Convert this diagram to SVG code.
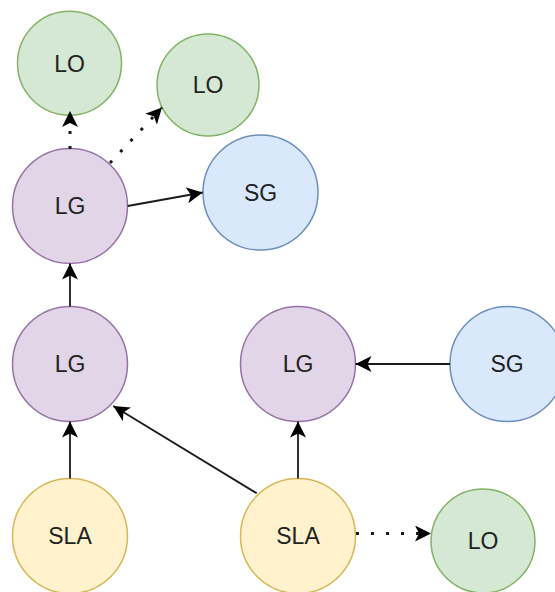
<svg xmlns="http://www.w3.org/2000/svg" width="555" height="592" viewBox="0 0 555 592">
<style>
.lo{fill:#d5e8d4;stroke:#82b366;stroke-width:1.5}
.lg{fill:#e1d5e7;stroke:#9673a6;stroke-width:1.5}
.sg{fill:#dae8fc;stroke:#6c8ebf;stroke-width:1.5}
.sla{fill:#fff2cc;stroke:#d6b656;stroke-width:1.5}
text{font-family:"Liberation Sans",Arial,sans-serif;font-size:23px;fill:#222;text-anchor:middle}
.e{fill:none;stroke:#1a1a1a;stroke-width:1.8;marker-end:url(#arr)}
.d{fill:none;stroke:#1a1a1a;stroke-width:3;stroke-dasharray:3 12;marker-end:url(#arr)}
</style>
<defs>
<marker id="arr" markerUnits="userSpaceOnUse" markerWidth="16" markerHeight="16" viewBox="0 0 16 16" refX="16" refY="8" orient="auto">
<path d="M16,8 L0,0 L4,8 L0,16 Z" fill="#000"/>
</marker>
</defs>
<rect width="555" height="592" fill="#fff"/>
<g id="n1"><circle class="lo" cx="69.5" cy="63.3" r="52"/><text x="69.5" y="71.5">LO</text></g>
<g id="n2"><circle class="lo" cx="208" cy="85" r="51"/><text x="208" y="93.2">LO</text></g>
<g id="n3"><circle class="lg" cx="70" cy="206" r="57.5"/><text x="70" y="214.2">LG</text></g>
<g id="n4"><circle class="sg" cx="260.5" cy="192.5" r="57.5"/><text x="260.5" y="200.7">SG</text></g>
<g id="n5"><circle class="lg" cx="70" cy="364" r="57.5"/><text x="70" y="372.2">LG</text></g>
<g id="n6"><circle class="lg" cx="298" cy="364" r="57.5"/><text x="298" y="372.2">LG</text></g>
<g id="n7"><circle class="sg" cx="507.5" cy="364" r="57.5"/><text x="507" y="372.2">SG</text></g>
<g id="n8"><circle class="sla" cx="70" cy="536" r="57.5"/><text x="70" y="544.2">SLA</text></g>
<g id="n9"><circle class="sla" cx="298" cy="536" r="57.5"/><text x="298" y="544.2">SLA</text></g>
<g id="n10"><circle class="lo" cx="483" cy="541" r="52"/><text x="483" y="549.2">LO</text></g>
<g id="edges">
<path class="d" d="M70,149 L70,111"/>
<path class="d" d="M110,163 L162,107.5"/>
<path class="e" d="M127.7,206 L202.7,192.5"/>
<path class="e" d="M70,306.5 L70,263.5"/>
<path class="e" d="M70,478.5 L70,421.5"/>
<path class="e" d="M256.7,493.3 L113.3,406"/>
<path class="e" d="M298,478.5 L298,421.5"/>
<path class="e" d="M450,364 L355.5,364"/>
<path class="d" d="M356,533.5 L431,533.5"/>
</g>
</svg>
